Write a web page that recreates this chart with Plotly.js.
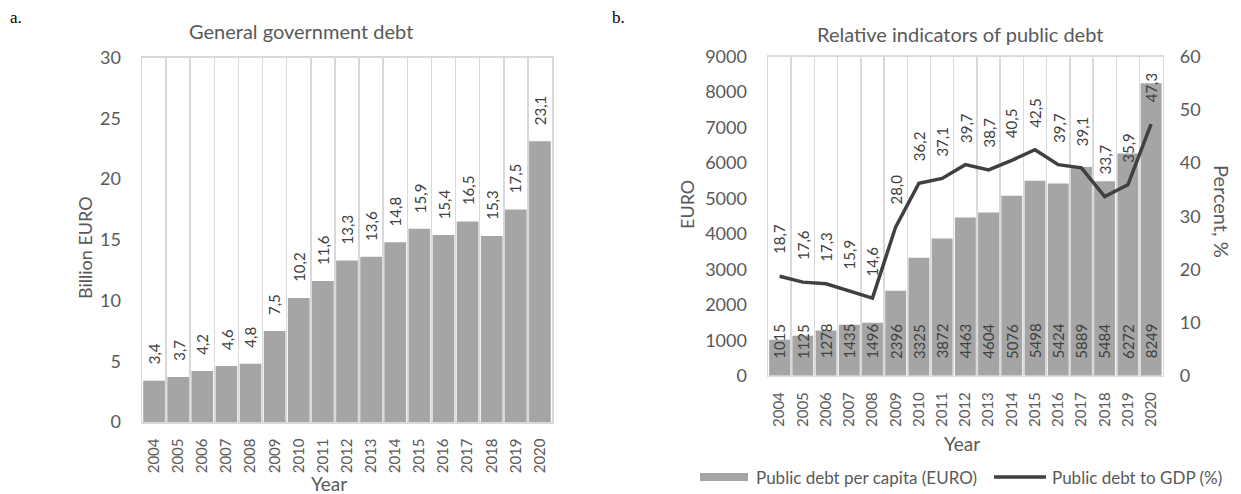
<!DOCTYPE html>
<html>
<head>
<meta charset="utf-8">
<script src="https://cdn.plot.ly/plotly-3.0.1.min.js"></script>
<style>html,body{margin:0;padding:0;background:#fff;}#chart{width:1241px;height:494px;}</style>
</head>
<body>
<div id="chart"></div>
<script>
// ---- data ----
const years = ['2004','2005','2006','2007','2008','2009','2010','2011','2012','2013','2014','2015','2016','2017','2018','2019','2020'];
const govDebtBn = [3.4, 3.7, 4.2, 4.6, 4.8, 7.5, 10.2, 11.6, 13.3, 13.6, 14.8, 15.9, 15.4, 16.5, 15.3, 17.5, 23.1];
const debtPerCapita = [1015, 1125, 1278, 1435, 1496, 2396, 3325, 3872, 4463, 4604, 5076, 5498, 5424, 5889, 5484, 6272, 8249];
const debtToGdp = [18.7, 17.6, 17.3, 15.9, 14.6, 28.0, 36.2, 37.1, 39.7, 38.7, 40.5, 42.5, 39.7, 39.1, 33.7, 35.9, 47.3];
const leftTicks = [0, 5, 10, 15, 20, 25, 30];
const euroTicks = [0, 1000, 2000, 3000, 4000, 5000, 6000, 7000, 8000, 9000];
const pctTicks = [0, 10, 20, 30, 40, 50, 60];

// ---- style ----
const W = 1241, H = 494;
const px = x => x / W;
const py = y => 1 - y / H;
const FONT = 'Lato, "Open Sans", sans-serif';
const TXT = '#595959';
const LBL = '#404040';
const GRID = '#d9d9d9';
const BAR = '#a5a5a5';
const fmt = v => v.toFixed(1).replace('.', ',');

const traces = [
  {type: 'bar', x: years, y: govDebtBn, xaxis: 'x', yaxis: 'y', marker: {color: BAR}, showlegend: false, hoverinfo: 'skip'},
  {type: 'bar', x: years, y: debtPerCapita, xaxis: 'x2', yaxis: 'y2', marker: {color: BAR}, showlegend: false, hoverinfo: 'skip'},
  {type: 'scatter', mode: 'lines', x: years, y: debtToGdp, xaxis: 'x2', yaxis: 'y3', line: {color: '#404040', width: 3.5}, showlegend: false, hoverinfo: 'skip'}
];

const catAxis = (domain, anchor) => ({
  domain: domain, anchor: anchor, type: 'category', categoryorder: 'array', categoryarray: years,
  range: [-0.5, years.length - 0.5], autorange: false, tickson: 'boundaries',
  showgrid: true, gridcolor: GRID, gridwidth: 1.5,
  showline: true, linecolor: GRID, linewidth: 1.5, mirror: true,
  ticks: '', tickangle: -90, tickfont: {size: 15, color: TXT}, ticklabelstandoff: 9,
  zeroline: false, fixedrange: true
});
const valAxis = (domain, anchor, range, ticks, extra) => Object.assign({
  domain: domain, anchor: anchor, range: range, autorange: false, tickmode: 'array', tickvals: ticks,
  showgrid: false, zeroline: false, showline: true, linecolor: GRID, linewidth: 1.5, mirror: true,
  ticks: '', tickfont: {size: 18, color: TXT}, ticklabelstandoff: 16, fixedrange: true
}, extra || {});

const ann = [];
// data labels, left chart (x given as category index)
govDebtBn.forEach((v, i) => ann.push({x: i, y: v, xref: 'x', yref: 'y', text: fmt(v), textangle: -90,
  showarrow: false, yanchor: 'bottom', xanchor: 'center', yshift: 14, font: {size: 15, color: LBL}}));
// data labels, right chart bars (inside base)
debtPerCapita.forEach((v, i) => ann.push({x: i, y: 0, xref: 'x2', yref: 'y2', text: String(v), textangle: -90,
  showarrow: false, yanchor: 'bottom', xanchor: 'center', yshift: 15, font: {size: 15, color: LBL}}));
// data labels, line
debtToGdp.forEach((v, i) => ann.push({x: i, y: v, xref: 'x2', yref: 'y3', text: fmt(v), textangle: -90,
  showarrow: false, yanchor: 'bottom', xanchor: 'center', yshift: 20, font: {size: 15, color: LBL}}));

const txt = (text, x, y, size, opts) => Object.assign({text: text, x: px(x), y: py(y), xref: 'paper', yref: 'paper',
  showarrow: false, xanchor: 'center', yanchor: 'middle', font: {size: size, color: TXT}}, opts || {});

ann.push(txt('a.', 8, 17, 17, {xanchor: 'left', font: {size: 17, color: '#000', family: '"Liberation Serif", "Times New Roman", serif'}}));
ann.push(txt('b.', 610, 17, 17, {xanchor: 'left', font: {size: 17, color: '#000', family: '"Liberation Serif", "Times New Roman", serif'}}));
ann.push(txt('General government debt', 301, 31, 20));
ann.push(txt('Relative indicators of public debt', 960, 34, 20));
ann.push(txt('Billion EURO', 85, 248, 18, {textangle: -90}));
ann.push(txt('EURO', 687, 205, 18, {textangle: -90}));
ann.push(txt('Percent, %', 1222, 211, 20, {textangle: 90}));
ann.push(txt('Year', 329, 483, 19));
ann.push(txt('Year', 962, 443, 19));
ann.push(txt('Public debt per capita (EURO)', 754, 477, 17, {xanchor: 'left'}));
ann.push(txt('Public debt to GDP (%)', 1050, 477, 17, {xanchor: 'left'}));

const shapes = [
  {type: 'rect', xref: 'paper', yref: 'paper', x0: px(700), x1: px(748), y0: py(481), y1: py(473), fillcolor: BAR, line: {width: 0}},
  {type: 'line', xref: 'paper', yref: 'paper', x0: px(994), x1: px(1046), y0: py(477), y1: py(477), line: {color: '#404040', width: 3.5}}
];

const layout = {
  width: W, height: H, margin: {l: 0, r: 0, t: 0, b: 0},
  paper_bgcolor: '#fff', plot_bgcolor: 'rgba(0,0,0,0)',
  font: {family: FONT, color: TXT},
  bargap: 0.1, showlegend: false,
  xaxis: catAxis([px(142), px(552)], 'y'),
  yaxis: valAxis([py(422), py(57.5)], 'x', [0, 30], leftTicks),
  xaxis2: catAxis([px(768), px(1162.7)], 'y2'),
  yaxis2: valAxis([py(375.7), py(56.7)], 'x2', [0, 9000], euroTicks),
  yaxis3: valAxis([py(375.7), py(56.7)], 'x2', [0, 60], pctTicks, {overlaying: 'y2', side: 'right', showline: false, mirror: false}),
  annotations: ann,
  shapes: shapes
};

Plotly.newPlot('chart', traces, layout, {displayModeBar: false, staticPlot: true});
</script>
</body>
</html>
